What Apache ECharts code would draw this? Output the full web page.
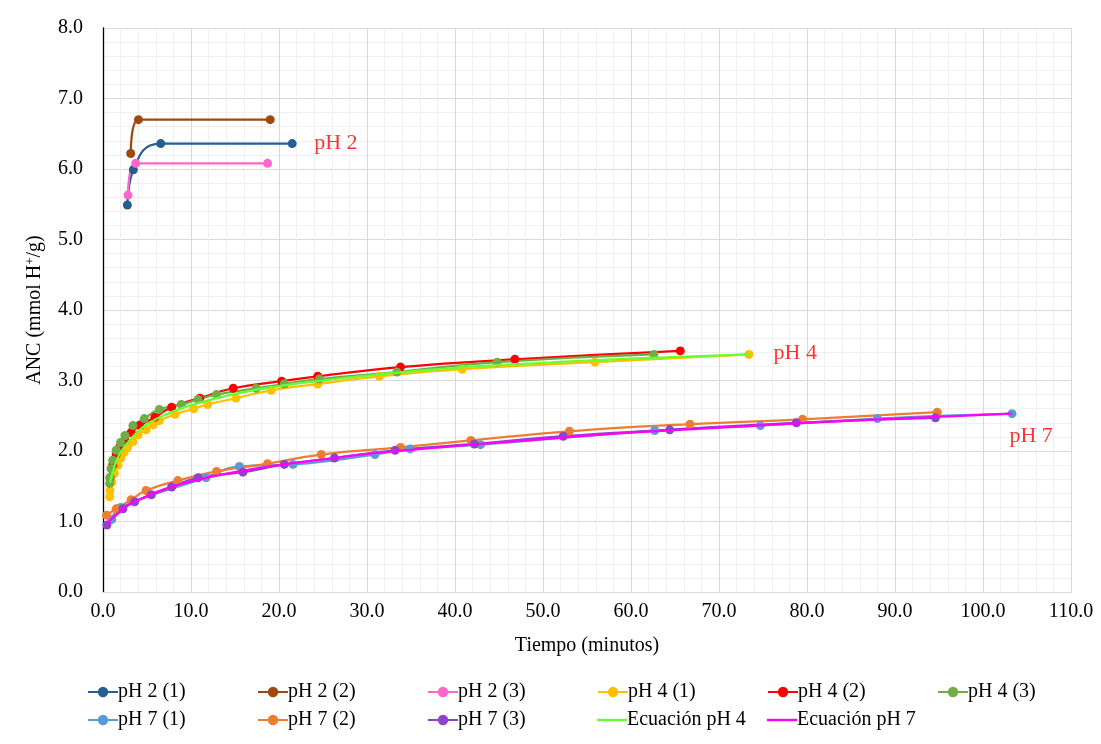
<!DOCTYPE html>
<html>
<head>
<meta charset="utf-8">
<script src="https://cdn.jsdelivr.net/npm/echarts@6/dist/echarts.min.js"></script>
<style>
  html, body { margin: 0; padding: 0; background: #ffffff; }
  #chart { width: 1101px; height: 744px; }
</style>
</head>
<body>
<div id="chart"></div>
<script>
// Tiempo (min), ANC (mmol H+/g) pairs for each trial
const ph2_1 = [[2.77, 5.49], [3.45, 5.99], [6.56, 6.36], [21.5, 6.36]];
const ph2_2 = [[3.15, 6.22], [4.03, 6.70], [19.0, 6.70]];
const ph2_3 = [[2.84, 5.63], [3.72, 6.08], [18.7, 6.08]];

const ph4_1 = [[0.76, 1.35], [0.8, 1.44], [1.0, 1.56], [1.3, 1.68], [1.7, 1.80], [2.0, 1.90],
  [2.4, 1.98], [2.8, 2.05], [3.4, 2.13], [4.0, 2.23], [4.9, 2.30], [5.7, 2.37], [6.4, 2.43],
  [8.2, 2.52], [10.3, 2.60], [11.9, 2.66], [15.1, 2.75], [19.1, 2.86], [24.4, 2.95],
  [31.4, 3.06], [40.8, 3.16], [55.9, 3.26], [73.4, 3.37]];
const ph4_2 = [[0.8, 1.62], [1.1, 1.80], [1.5, 1.95], [1.9, 2.05], [2.5, 2.15], [3.2, 2.26],
  [4.2, 2.36], [5.9, 2.48], [7.8, 2.62], [11.0, 2.75], [14.8, 2.89], [20.3, 2.99],
  [24.4, 3.06], [33.8, 3.19], [46.8, 3.30], [65.6, 3.42]];
const ph4_3 = [[0.76, 1.54], [0.8, 1.63], [0.9, 1.75], [1.1, 1.87], [1.5, 2.01], [2.0, 2.12],
  [2.5, 2.22], [3.4, 2.36], [4.7, 2.46], [6.4, 2.59], [8.9, 2.66], [10.8, 2.73], [12.9, 2.80],
  [17.4, 2.89], [20.6, 2.95], [24.6, 3.02], [33.4, 3.12], [44.8, 3.26], [62.6, 3.37]];

const ph7_1 = [[1.0, 1.03], [2.0, 1.20], [11.7, 1.62], [15.5, 1.78], [21.6, 1.81], [30.9, 1.95],
  [34.9, 2.03], [42.9, 2.09], [62.7, 2.29], [74.7, 2.36], [88.0, 2.46], [103.3, 2.53]];
const ph7_2 = [[0.4, 1.09], [1.5, 1.18], [3.2, 1.31], [4.9, 1.44], [8.5, 1.58], [12.9, 1.71],
  [18.7, 1.82], [24.8, 1.95], [33.8, 2.05], [41.8, 2.15], [53.0, 2.28], [66.7, 2.38],
  [79.5, 2.45], [94.8, 2.55]];
const ph7_3 = [[0.45, 0.95], [2.27, 1.18], [3.6, 1.28], [5.5, 1.38], [7.8, 1.49], [10.8, 1.62],
  [15.9, 1.70], [20.6, 1.81], [26.3, 1.90], [33.2, 2.01], [42.2, 2.10], [52.3, 2.21],
  [64.4, 2.30], [78.8, 2.40], [94.6, 2.47]];

// Fitted curves
const eq_ph4 = [[0.8, 1.55], [1.0, 1.65], [1.5, 1.85], [2.0, 1.98], [3.0, 2.15], [4.0, 2.28],
  [5.0, 2.38], [7.0, 2.51], [10.0, 2.65], [15.0, 2.81], [20.0, 2.92], [25.0, 3.00],
  [30.0, 3.07], [40.0, 3.18], [50.0, 3.25], [60.0, 3.31], [73.4, 3.37]];
const eq_ph7 = [[0.5, 0.97], [1.0, 1.04], [2.0, 1.15], [3.0, 1.24], [5.0, 1.36], [7.0, 1.46],
  [10.0, 1.57], [15.0, 1.70], [20.0, 1.80], [25.0, 1.88], [30.0, 1.96], [40.0, 2.07],
  [50.0, 2.17], [60.0, 2.26], [70.0, 2.33], [80.0, 2.40], [90.0, 2.46], [103.3, 2.53]];

// Group labels: text, anchor point
const groupLabels = [['pH 2', 24.0, 6.36], ['pH 4', 76.2, 3.39], ['pH 7', 103.0, 2.21]];

const seriesDefs = [
  { name: 'pH 2 (1)', data: ph2_1, color: '#255E91', marker: true },
  { name: 'pH 2 (2)', data: ph2_2, color: '#9E480E', marker: true },
  { name: 'pH 2 (3)', data: ph2_3, color: '#FF66CC', marker: true },
  { name: 'pH 4 (1)', data: ph4_1, color: '#FFC000', marker: true },
  { name: 'pH 4 (2)', data: ph4_2, color: '#FF0000', marker: true },
  { name: 'pH 4 (3)', data: ph4_3, color: '#70AD47', marker: true },
  { name: 'pH 7 (1)', data: ph7_1, color: '#5B9BD5', marker: true },
  { name: 'pH 7 (2)', data: ph7_2, color: '#ED7D31', marker: true },
  { name: 'pH 7 (3)', data: ph7_3, color: '#8E44C8', marker: true },
  { name: 'Ecuación pH 4', data: eq_ph4, color: '#66FF33', marker: false },
  { name: 'Ecuación pH 7', data: eq_ph7, color: '#FF00FF', marker: false }
];

const FONT = '"Liberation Serif", "Times New Roman", serif';

const series = seriesDefs.map(s => ({
  name: s.name,
  type: 'line',
  data: s.data,
  smooth: 0.5,
  showSymbol: s.marker,
  symbol: s.marker ? 'circle' : 'none',
  symbolSize: 9,
  lineStyle: { width: 2.25, color: s.color },
  itemStyle: { color: s.color },
  emphasis: { disabled: true },
  z: s.marker ? 3 : 4
}));

series.push({
  name: 'labels',
  type: 'scatter',
  data: groupLabels.map(g => ({ value: [g[1], g[2]], name: g[0] })),
  symbolSize: 0,
  silent: true,
  label: {
    show: true,
    position: 'right',
    distance: 0,
    formatter: p => p.name,
    color: '#FF0000',
    fontFamily: FONT,
    fontSize: 22
  }
});

// Legend laid out as a 6-column grid; fitted curves get a plain line icon
const legends = seriesDefs.map((s, i) => ({
  data: [s.marker ? s.name : { name: s.name, icon: 'path://M0,0H30V2.4H0Z' }],
  left: 82 + (i % 6) * 170,
  top: 677 + Math.floor(i / 6) * 28,
  itemWidth: 30,
  itemHeight: 13,
  itemGap: 0,
  selectedMode: false,
  textStyle: { fontFamily: FONT, fontSize: 20, color: '#000', padding: [0, 0, 0, -5] }
}));

const chart = echarts.init(document.getElementById('chart'));
chart.setOption({
  animation: false,
  backgroundColor: '#ffffff',
  grid: { left: 103, right: 30, top: 28, bottom: 152, containLabel: false },
  legend: legends,
  xAxis: {
    type: 'value',
    min: 0, max: 110, interval: 10,
    name: 'Tiempo (minutos)',
    nameLocation: 'middle',
    nameGap: 44,
    nameTextStyle: { fontFamily: FONT, fontSize: 20, color: '#000' },
    axisLine: { show: true, onZero: false, lineStyle: { color: '#D9D9D9', width: 1 } },
    axisTick: { show: false },
    axisLabel: { fontFamily: FONT, fontSize: 20, color: '#000', margin: 10, formatter: v => v.toFixed(1) },
    splitLine: { show: true, lineStyle: { color: '#D9D9D9', width: 1 } },
    minorTick: { show: false, splitNumber: 5 },
    minorSplitLine: { show: true, lineStyle: { color: '#F0F0F0', width: 1 } }
  },
  yAxis: {
    type: 'value',
    min: 0, max: 8, interval: 1,
    name: '{a|ANC (mmol H}{s|+}{a|/g)}',
    nameLocation: 'middle',
    nameGap: 58,
    nameRotate: 90,
    nameTextStyle: {
      rich: {
        a: { fontFamily: FONT, fontSize: 20, color: '#000' },
        s: { fontFamily: FONT, fontSize: 13, color: '#000', verticalAlign: 'top', padding: [0, 0, 8, 0] }
      }
    },
    axisLine: { show: true, lineStyle: { color: '#000000', width: 1.3 } },
    axisTick: { show: false },
    axisLabel: { fontFamily: FONT, fontSize: 20, color: '#000', margin: 20, formatter: v => v.toFixed(1) },
    splitLine: { show: true, lineStyle: { color: '#D9D9D9', width: 1 } },
    minorTick: { show: false, splitNumber: 5 },
    minorSplitLine: { show: true, lineStyle: { color: '#F0F0F0', width: 1 } }
  },
  series: series
});
</script>
</body>
</html>
